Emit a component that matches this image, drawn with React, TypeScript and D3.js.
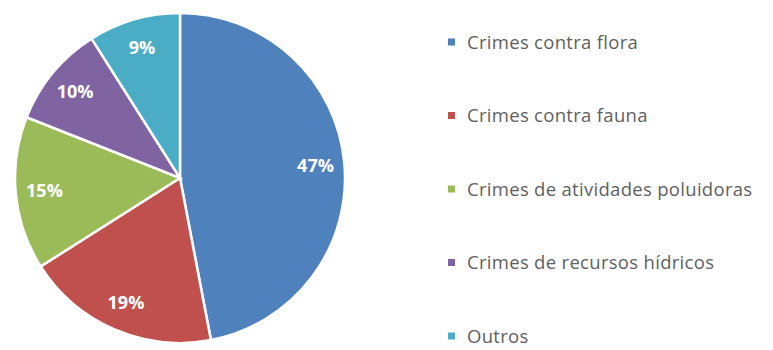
import React from "react";
import * as d3 from "d3";

const categories = [
  "Crimes contra flora",
  "Crimes contra fauna",
  "Crimes de atividades poluidoras",
  "Crimes de recursos hídricos",
  "Outros",
];
const values = [47, 19, 15, 10, 9];
const colors = ["#4F81BD", "#C0504D", "#9BBB59", "#8064A2", "#4BACC6"];

const W = 773;
const H = 350;
const cx = 180;
const cy = 178;
const R = 165;

export default function App() {
  const data = categories.map((c, i) => ({ c, v: values[i], color: colors[i] }));
  const pie = d3.pie<any>().value((d) => d.v).sort(null);
  const arcs = pie(data);
  const arc = d3.arc<any>().innerRadius(0).outerRadius(R);
  const labelArc = d3.arc<any>().innerRadius(R * 0.825).outerRadius(R * 0.825);
  const total = d3.sum(values);
  const legendY = d3.scalePoint<string>().domain(categories).range([42, 336]);

  return (
    <svg
      width={W}
      height={H}
      style={{ position: "absolute", left: 0, top: 0, background: "#fff" }}
    >
      <g transform={`translate(${cx},${cy})`}>
        {arcs.map((a, i) => (
          <path key={i} d={arc(a) || ""} fill={a.data.color} stroke="#fff" strokeWidth={2.5} />
        ))}
        {arcs.map((a, i) => {
          const [x, y] = labelArc.centroid(a);
          return (
            <text
              key={i}
              x={x}
              y={y}
              dy="0.35em"
              textAnchor="middle"
              fill="#fff"
              fontFamily="'Open Sans', sans-serif"
              fontWeight="bold"
              fontSize={18}
            >
              {Math.round((a.data.v / total) * 100)}%
            </text>
          );
        })}
      </g>
      {categories.map((c, i) => (
        <g key={c} transform={`translate(448,${legendY(c)})`}>
          <rect x={0} y={-3.5} width={7} height={7} fill={colors[i]} />
          <text
            x={19}
            y={0}
            dy="0.36em"
            fill="#5f5f5f"
            fontFamily="'Open Sans', sans-serif"
            fontSize={18.5}
            letterSpacing={0.3}
          >
            {c}
          </text>
        </g>
      ))}
    </svg>
  );
}
